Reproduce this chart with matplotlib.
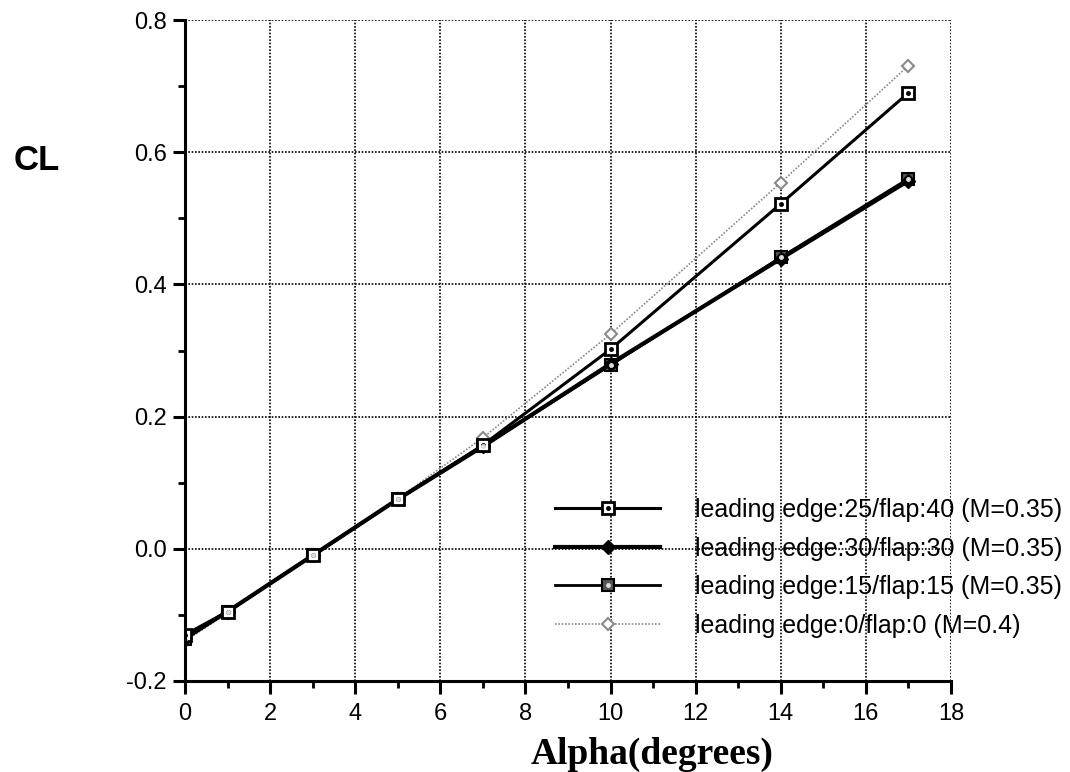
"""CL vs alpha for several leading edge / flap settings"""
# lift curves

import numpy as np
import matplotlib.pyplot as plt
from matplotlib.ticker import MultipleLocator
from matplotlib.legend_handler import HandlerTuple

alpha = [0, 1, 3, 5, 7, 10, 14, 17]

cl_le25_f40 = [-0.130, -0.095, -0.010, 0.075, 0.157, 0.302, 0.522, 0.690]
cl_le30_f30 = [-0.135, -0.095, -0.010, 0.075, 0.155, 0.280, 0.439, 0.557]
cl_le15_f15 = [-0.137, -0.095, -0.010, 0.075, 0.155, 0.278, 0.441, 0.560]
cl_le0_f0 = [-0.140, -0.097, -0.010, 0.076, 0.168, 0.325, 0.554, 0.731]

labels = ["leading edge:25/flap:40 (M=0.35)",
          "leading edge:30/flap:30 (M=0.35)",
          "leading edge:15/flap:15 (M=0.35)",
          "leading edge:0/flap:0 (M=0.4)"]

plt.rcParams['font.family'] = ['Liberation Sans', 'DejaVu Sans']

fig = plt.figure(figsize=(10.7, 7.72), dpi=100)
ax = fig.add_axes([0.1729, 0.1179, 0.7159, 0.8561])

# grey reference case first so the others sit on top
l4, = ax.plot(alpha, cl_le0_f0, color="#8a8a8a", lw=1.2, ls=(0, (1, 1)),
              marker="D", ms=6, mfc="white", mec="#8a8a8a", mew=1.5)
l3, = ax.plot(alpha, cl_le15_f15, color="black", lw=2.0,
              marker="s", ms=8, mfc="#555555", mec="black", mew=1.5)
l2, = ax.plot(alpha, cl_le30_f30, color="black", lw=3.0,
              marker="D", ms=7, mfc="black", mec="black")
l1, = ax.plot(alpha, cl_le25_f40, color="black", lw=2.2,
              marker="s", ms=9, mfc="white", mec="black", mew=2)
d1, = ax.plot(alpha, cl_le25_f40, ls="none", marker="o", ms=2.5, color="black")
d3, = ax.plot(alpha, cl_le15_f15, ls="none", marker="o", ms=2.5, color="#dddddd")

ax.set_xlim(0, 18)
ax.set_ylim(-0.2, 0.8)
ax.xaxis.set_major_locator(MultipleLocator(2))
ax.xaxis.set_minor_locator(MultipleLocator(1))
ax.yaxis.set_major_locator(MultipleLocator(0.2))
ax.yaxis.set_minor_locator(MultipleLocator(0.1))
ax.set_yticklabels([f"{v:.1f}" for v in ax.get_yticks()])

ax.grid(True, which="major", color="black", ls=(0, (1, 1)), lw=1.2)
ax.set_axisbelow(True)
for s in ["top", "right"]:
    ax.spines[s].set_visible(False)
for s in ["left", "bottom"]:
    ax.spines[s].set_linewidth(2.2)

ax.tick_params(which="major", direction="out", length=9, width=2.2,
               labelsize=17, pad=4)
ax.tick_params(axis="x", which="major", pad=7)
ax.tick_params(which="minor", direction="out", length=5, width=2)

fig.text(0.609, 0.023, "Alpha(degrees)", family=["Liberation Serif", "DejaVu Serif"],
         fontweight="bold", fontsize=27, ha="center", va="center")
fig.text(0.034, 0.792, "CL", fontsize=25, fontweight="bold",
         ha="center", va="center")

ax.legend([(l1, d1), l2, (l3, d3), l4], labels,
          handler_map={tuple: HandlerTuple(ndivide=1)},
          loc="center left", bbox_to_anchor=(0.498, 0.2645),
          bbox_transform=fig.transFigure, frameon=False,
          fontsize=18, handlelength=4.2, handletextpad=1.4,
          labelspacing=0.58)

fig.savefig("out.png", dpi=100)
